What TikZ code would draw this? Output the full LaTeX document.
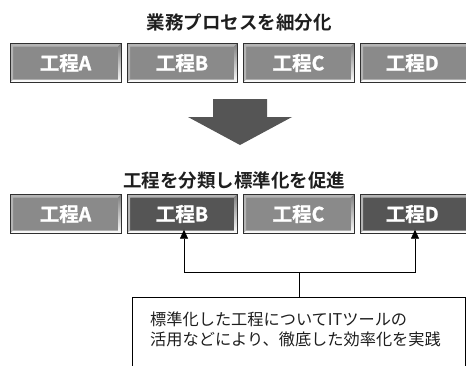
\documentclass[tikz,border=0pt]{standalone}
\usepackage{fontspec}
\newfontfamily\jp{Noto Sans CJK JP}[BoldFont={Noto Sans CJK JP Bold}]
\newfontfamily\jpheavy{Noto Sans CJK JP Bold}[FakeBold=1.2]
\usetikzlibrary{arrows.meta}
\definecolor{lightg}{HTML}{8A8A8A}
\definecolor{darkg}{HTML}{555555}
\definecolor{hilite}{HTML}{B4B4B4}
\definecolor{shade}{HTML}{303030}
\definecolor{txt}{HTML}{1E1E1E}
\begin{document}
\begin{tikzpicture}[x=1pt,y=-1pt,
  bevel/.style={draw=shade, line width=0.4pt, fill=#1, minimum height=39pt, inner sep=0pt,
    text=white, font=\jpheavy\fontsize{19.5}{19.5}\selectfont,
    path picture={
      \coordinate (nw) at (path picture bounding box.north west);
      \coordinate (se) at (path picture bounding box.south east);
      \fill[hilite] (nw) -- (nw -| se) -- ([shift={(-3pt,-3pt)}]nw -| se) -- ([shift={(3pt,-3pt)}]nw) -- ([shift={(3pt,3pt)}]nw |- se) -- (nw |- se) -- cycle;
      \fill[shade] (se) -- (se |- nw) -- ([shift={(-3pt,-3pt)}]se |- nw) -- ([shift={(-3pt,3pt)}]se) -- ([shift={(3pt,3pt)}]se -| nw) -- (se -| nw) -- cycle;
    }},
  title/.style={text=txt, font=\jp\bfseries\fontsize{18.5}{18.5}\selectfont, inner sep=0pt},
  conn/.style={line width=0.7pt, draw=black},
  tip/.style={-{Triangle[length=9pt,width=8pt]}}
]
\useasboundingbox (0,0) rectangle (466,365);
\clip (0,0) rectangle (466,365);

\node[title] (t1) at (239,22) {業務プロセスを細分化};
\node[bevel=lightg, minimum width=111pt] (a1) at (65.5,63) {工程A};
\node[bevel=lightg, minimum width=110pt] (b1) at (182,63) {工程B};
\node[bevel=lightg, minimum width=111pt] (c1) at (298.5,63) {工程C};
\node[bevel=lightg, minimum width=110pt, anchor=west] (d1) at (360,63) {\hspace*{-6pt}工程D};

% big down arrow
\fill[darkg] (213,99) -- (267,99) -- (267,117) -- (292,117) -- (240,145) -- (188,117) -- (213,117) -- cycle;

\node[title] (t2) at (234,180) {工程を分類し標準化を促進};
\node[bevel=lightg, minimum width=111pt] (a2) at (65.5,214) {工程A};
\node[bevel=darkg, minimum width=110pt] (b2) at (182,214) {工程B};
\node[bevel=lightg, minimum width=111pt] (c2) at (298.5,214) {工程C};
\node[bevel=darkg, minimum width=110pt, anchor=west] (d2) at (360,214) {\hspace*{-6pt}工程D};

% text box
\node[draw=black, line width=0.7pt, anchor=north west, minimum width=333pt, minimum height=80pt,
      inner sep=0pt] (box) at (132,297) {};
\node[anchor=west, align=left, text=txt, inner sep=0pt,
      font=\jp\fontsize{16.2}{19.5}\selectfont] (boxtext) at (150,329.5)
      {標準化した工程についてITツールの\\活用などにより、徹底した効率化を実践};

\coordinate (j) at (299,272);
\coordinate (jl) at (184,272);
\coordinate (jr) at (415,272);
\draw[conn] (box.north -| j) -- (j);
\draw[conn, tip] (j) -- (jl) -- ([yshift=4pt]jl |- b2.south);
\draw[conn, tip] (j) -- (jr) -- ([yshift=4pt]jr |- d2.south);
\end{tikzpicture}
\end{document}
